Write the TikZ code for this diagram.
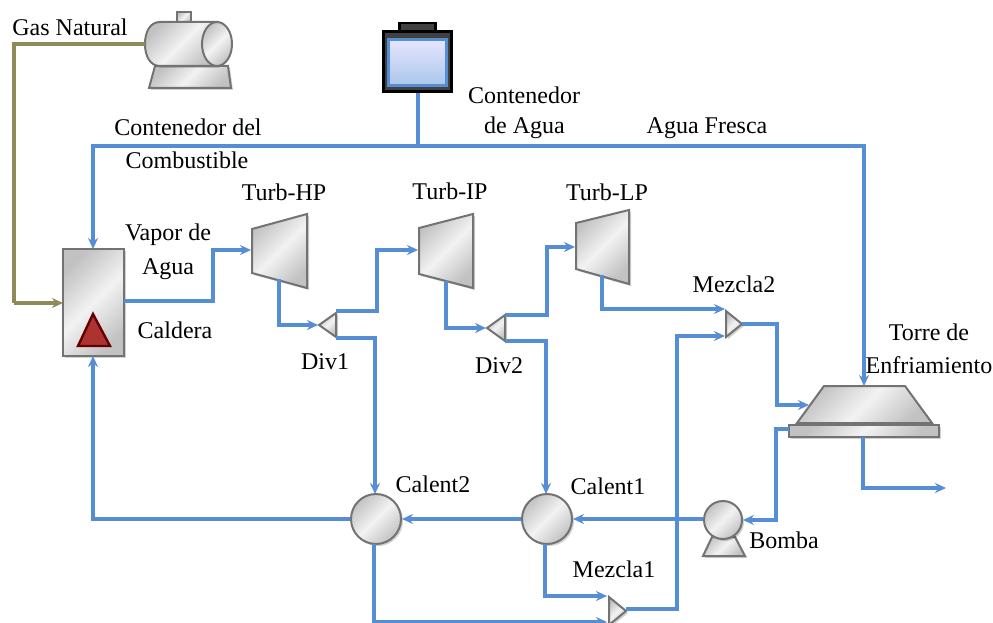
\documentclass[tikz,border=0pt]{standalone}
\usepackage{fontspec}
\setmainfont{Liberation Serif}
\usetikzlibrary{arrows.meta,shadows}
\definecolor{flow}{HTML}{558ED5}
\definecolor{gasline}{HTML}{8F8A5A}
\tikzset{
  flowline/.style={draw=flow,line width=3.1pt,-{Stealth[length=11pt,width=10pt]}},
  flowplain/.style={draw=flow,line width=3.1pt},
  gasflow/.style={draw=gasline,line width=3.1pt,-{Stealth[length=11pt,width=10pt]}},
  gasplain/.style={draw=gasline,line width=3.1pt},
  metal/.style={draw=black!55,line width=2pt,top color=black!24,bottom color=black!24,middle color=black!5,shading angle=45,
    drop shadow={shadow xshift=2pt,shadow yshift=-2pt,opacity=.18,fill=black}},
  metalflat/.style={draw=black!55,line width=2pt,top color=black!24,bottom color=black!24,middle color=black!5,shading angle=45},
  lab/.style={font=\fontsize{24}{28}\selectfont,text=black,inner sep=0pt},
}
\begin{document}
\begin{tikzpicture}[x=1pt,y=-1pt]
\useasboundingbox (0,0) rectangle (993,623);
\clip (0,0) rectangle (993,623);
% gas tank
\draw[metalflat] (177,22) rectangle (191,12);
\draw[metal] (155,66) -- (228,66) -- (231,88) -- (149,88) -- cycle;
\draw[metal] (217,22) -- (160,22) .. controls (150,22) and (145,32) .. (145,44) .. controls (145,56) and (150,66) .. (160,66) -- (217,66) -- cycle;
\draw[metalflat] (217,44) ellipse [x radius=15,y radius=22];
\coordinate (tankw) at (145,44);
% water container
\node[draw=black,fill=black!75,line width=2.5pt,minimum width=36pt,minimum height=8pt,inner sep=0pt] (lid) at (417.5,27) {};
\node[draw=black,fill=black!75,line width=3pt,minimum width=68pt,minimum height=60pt,inner sep=0pt] (cont) at (417.5,61.5) {};
\node[draw=flow,line width=2.5pt,top color=blue!10!white,bottom color=flow!50!white,minimum width=58pt,minimum height=46pt,inner sep=0pt] at (417.5,62.5) {};
% boiler
\node[metal,minimum width=61pt,minimum height=107pt,inner sep=0pt] (boiler) at (93.5,302.5) {};
\draw[draw=black!50!red!80!black,fill=red!60!black!80!white,line width=2.4pt] (93,314) -- (110,346) -- (78,346) -- cycle;
% turbines
\draw[metal] (252,229) -- (307,214) -- (307,288) -- (252,273) -- cycle;
\draw[metal] (419,228) -- (473,214) -- (473,288) -- (419,274) -- cycle;
\draw[metal] (576,223) -- (629,210) -- (629,284) -- (576,269) -- cycle;
% splitters and mixers
\draw[metal] (319,325) -- (336,313) -- (336,337) -- cycle;
\draw[metal] (487,328) -- (505,315) -- (505,341) -- cycle;
\draw[metal] (726,311) -- (742,324) -- (726,337) -- cycle;
\draw[metal] (609,597) -- (626,611) -- (609,625) -- cycle;
% heaters
\node[metal,circle,minimum size=50pt,inner sep=0pt] (cal2) at (376,519) {};
\node[metal,circle,minimum size=50pt,inner sep=0pt] (cal1) at (547,519) {};
% pump
\draw[metal] (712,537) -- (735,537) -- (745,556) -- (703,556) -- cycle;
\node[metal,circle,minimum size=38pt,inner sep=0pt] (pump) at (723,520) {};
% tower
\draw[metal] (824,386) -- (905,386) -- (932,423) -- (797,423) -- cycle;
\draw[metal] (789,425) rectangle (939,437);
% ports
\coordinate (hpin) at (251,250);
\coordinate (hpout) at (279,279);
\coordinate (ipin) at (418,250);
\coordinate (ipout) at (446,281);
\coordinate (lpin) at (575,247);
\coordinate (lpout) at (602,275);
\coordinate (d1in) at (318,325);
\coordinate (d1a) at (336,311);
\coordinate (d1b) at (336,338);
\coordinate (d2in) at (486,328);
\coordinate (d2a) at (505,315);
\coordinate (d2b) at (505,341);
\coordinate (m2a) at (725,309);
\coordinate (m2b) at (725,336);
\coordinate (m2out) at (742,324);
\coordinate (m1a) at (607,596);
\coordinate (m1b) at (607,622);
\coordinate (m1out) at (626,609);
\coordinate (towtop) at (864,386);
\coordinate (towin) at (809,405);
\coordinate (towbl) at (789,429);
\coordinate (towbot) at (863,437);
\coordinate (drain) at (946,488);
\coordinate (gasin) at (63,303);
\coordinate (junc) at (418,146);
\coordinate (boilertop) at (93,249);
\coordinate (boilerbot) at (93,356);
\coordinate (boilerout) at (124,301);
% gas
\draw[gasplain,line join=miter] (tankw) -- (14,44) -- (14,303);
\draw[gasflow] (14,303) -- (gasin);
% fresh water
\draw[flowplain] (cont.south -| junc) -- (junc);
\draw[flowline] (junc) -| (boilertop);
\draw[flowline] (junc) -| (towtop);
% main cycle
\draw[flowline] (boilerout) -- (213,301) -- (213,250) -- (hpin);
\draw[flowline] (hpout) |- (d1in);
\draw[flowline] (d1a) -- (377,311) -- (377,250) -- (ipin);
\draw[flowline] (d1b) -- (375,338) -- (375,494);
\draw[flowline] (ipout) |- (d2in);
\draw[flowline] (d2a) -- (547,315) -- (547,247) -- (lpin);
\draw[flowline] (d2b) -- (546,341) -- (546,494);
\draw[flowline] (lpout) |- (m2a);
\draw[flowline] (m2out) -- (777,324) -- (777,405) -- (towin);
\draw[flowline] (m1out) -- (677,609) -- (677,336) -- (m2b);
\draw[flowline] (towbl) -- (776,429) -- (776,520) -- (pump.east);
\draw[flowline] (towbot) -- (863,488) -- (drain);
\draw[flowline] (pump.west |- cal1.east) -- (cal1.east);
\draw[flowline] (cal1.west) -- (cal2.east);
\draw[flowline] (cal2.west) -- (93,519) -- (boilerbot);
\draw[flowline] (545,544) |- (m1a);
\draw[flowline] (374,544) |- (m1b);
% labels
\node[lab] (t1) at (70,27) {Gas Natural};
\node[lab] (t2) at (188,127) {Contenedor del};
\node[lab] (t3) at (187,160) {Combustible};
\node[lab] (t4) at (524,95) {Contenedor};
\node[lab] (t5) at (524.5,128) {de Agua};
\node[lab] (t6) at (707,128) {Agua Fresca};
\node[lab] (t7) at (284,192) {Turb-HP};
\node[lab] (t8) at (450,191) {Turb-IP};
\node[lab] (t9) at (607,192) {Turb-LP};
\node[lab] (t10) at (168,235) {Vapor de};
\node[lab] (t11) at (168,269) {Agua};
\node[lab] (t12) at (175,330) {Caldera};
\node[lab] (t13) at (325,362) {Div1};
\node[lab] (t14) at (499,366) {Div2};
\node[lab] (t15) at (734,284) {Mezcla2};
\node[lab] (t16) at (929,332) {Torre de};
\node[lab] (t17) at (929,365) {Enfriamiento};
\node[lab] (t18) at (433,484) {Calent2};
\node[lab] (t19) at (608,486) {Calent1};
\node[lab] (t20) at (614,569) {Mezcla1};
\node[lab] (t21) at (784,540) {Bomba};
\end{tikzpicture}
\end{document}
